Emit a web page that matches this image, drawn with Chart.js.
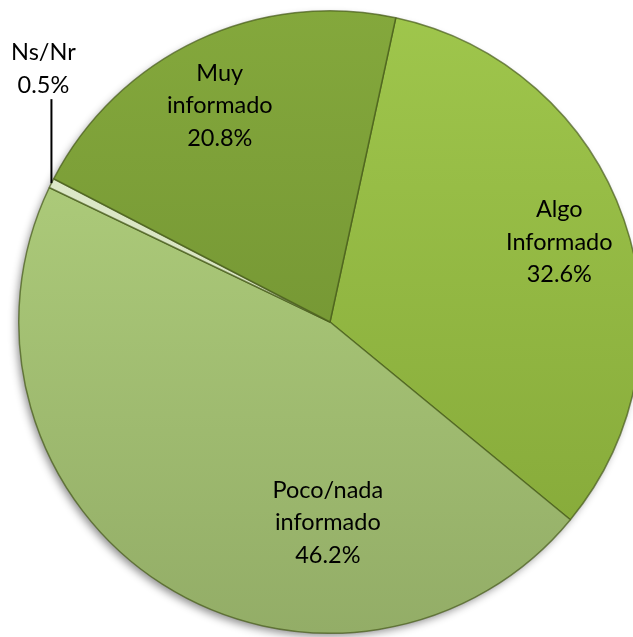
<!DOCTYPE html>
<html>
<head>
<meta charset="utf-8">
<script src="https://cdn.jsdelivr.net/npm/chart.js@4/dist/chart.umd.min.js"></script>
<style>
  html, body { margin: 0; padding: 0; background: #ffffff; overflow: hidden; }
  #wrap { position: relative; width: 660px; height: 637px; }
</style>
</head>
<body>
<div id="wrap"><canvas id="c"></canvas></div>
<script>
// Data
const categories = ["Algo Informado", "Poco/nada informado", "Ns/Nr", "Muy informado"];
const labelLines = [["Algo", "Informado"], ["Poco/nada", "informado"], ["Ns/Nr"], ["Muy", "informado"]];
const percentages = [32.6, 46.2, 0.5, 20.8];

// Styling (top/bottom gradient colours per slice)
const topColors = ["#9fc64c", "#b5d580", "#e4eed2", "#84a83c"];
const bottomColors = ["#83a637", "#93ad67", "#c9d8ad", "#6a8a2e"];

// label placement: [angle offset from slice middle (deg), radial fraction]
const labelPlacement = [[0, 0.78], [-31.9, 0.645], null, [-1.8, 0.78]];

const shadowPlugin = {
  id: 'pieShadow',
  beforeDatasetsDraw(chart) {
    const arc = chart.getDatasetMeta(0).data[0];
    if (!arc) return;
    const ctx = chart.ctx;
    ctx.save();
    ctx.shadowColor = 'rgba(0,0,0,0.45)';
    ctx.shadowBlur = 8;
    ctx.shadowOffsetX = -3;
    ctx.shadowOffsetY = 4;
    ctx.beginPath();
    ctx.arc(arc.x, arc.y, arc.outerRadius - 1, 0, Math.PI * 2);
    ctx.fillStyle = '#8aa858';
    ctx.fill();
    ctx.restore();
  }
};

const labelPlugin = {
  id: 'pieLabels',
  afterDatasetsDraw(chart) {
    const ctx = chart.ctx;
    const meta = chart.getDatasetMeta(0);
    ctx.save();
    ctx.font = '23.5px Lato, "Open Sans", sans-serif';
    ctx.fillStyle = '#000000';
    ctx.textAlign = 'center';
    ctx.textBaseline = 'middle';
    const lh = 32.5;
    meta.data.forEach((arc, i) => {
      const lines = labelLines[i].concat([percentages[i].toFixed(1) + '%']);
      const mid = (arc.startAngle + arc.endAngle) / 2;
      if (labelPlacement[i]) {
        const a = mid + labelPlacement[i][0] * Math.PI / 180;
        const r = arc.outerRadius * labelPlacement[i][1];
        const cx = arc.x + Math.cos(a) * r;
        const cy = arc.y + Math.sin(a) * r;
        const y0 = cy - (lines.length - 1) * lh / 2;
        lines.forEach((t, k) => ctx.fillText(t, cx, y0 + k * lh));
      } else {
        // outside label with leader line
        const ex = arc.x + Math.cos(mid) * arc.outerRadius;
        const ey = arc.y + Math.sin(mid) * arc.outerRadius;
        const topY = ey - 84;
        ctx.strokeStyle = '#000000';
        ctx.lineWidth = 2;
        ctx.beginPath();
        ctx.moveTo(ex, ey);
        ctx.lineTo(ex, topY);
        ctx.stroke();
        const lx = ex - 8;
        ctx.fillText(lines[1], lx, topY - 14);
        ctx.fillText(lines[0], lx, topY - 47);
      }
    });
    ctx.restore();
  }
};

function sliceGradient(context) {
  const chart = context.chart;
  const area = chart.chartArea;
  if (!area) return topColors[context.dataIndex];
  const g = chart.ctx.createLinearGradient(0, area.top, 0, area.bottom);
  g.addColorStop(0, topColors[context.dataIndex]);
  g.addColorStop(1, bottomColors[context.dataIndex]);
  return g;
}

new Chart(document.getElementById('c'), {
  type: 'pie',
  data: {
    labels: categories,
    datasets: [{
      data: percentages,
      backgroundColor: sliceGradient,
      borderColor: 'rgba(70,90,25,0.7)',
      borderWidth: 1.5
    }]
  },
  options: {
    responsive: true,
    maintainAspectRatio: false,
    animation: false,
    rotation: 12.2,
    layout: { padding: { left: 18, right: 18, top: 10, bottom: 3 } },
    plugins: {
      legend: { display: false },
      tooltip: { enabled: false }
    }
  },
  plugins: [shadowPlugin, labelPlugin]
});
</script>
</body>
</html>
